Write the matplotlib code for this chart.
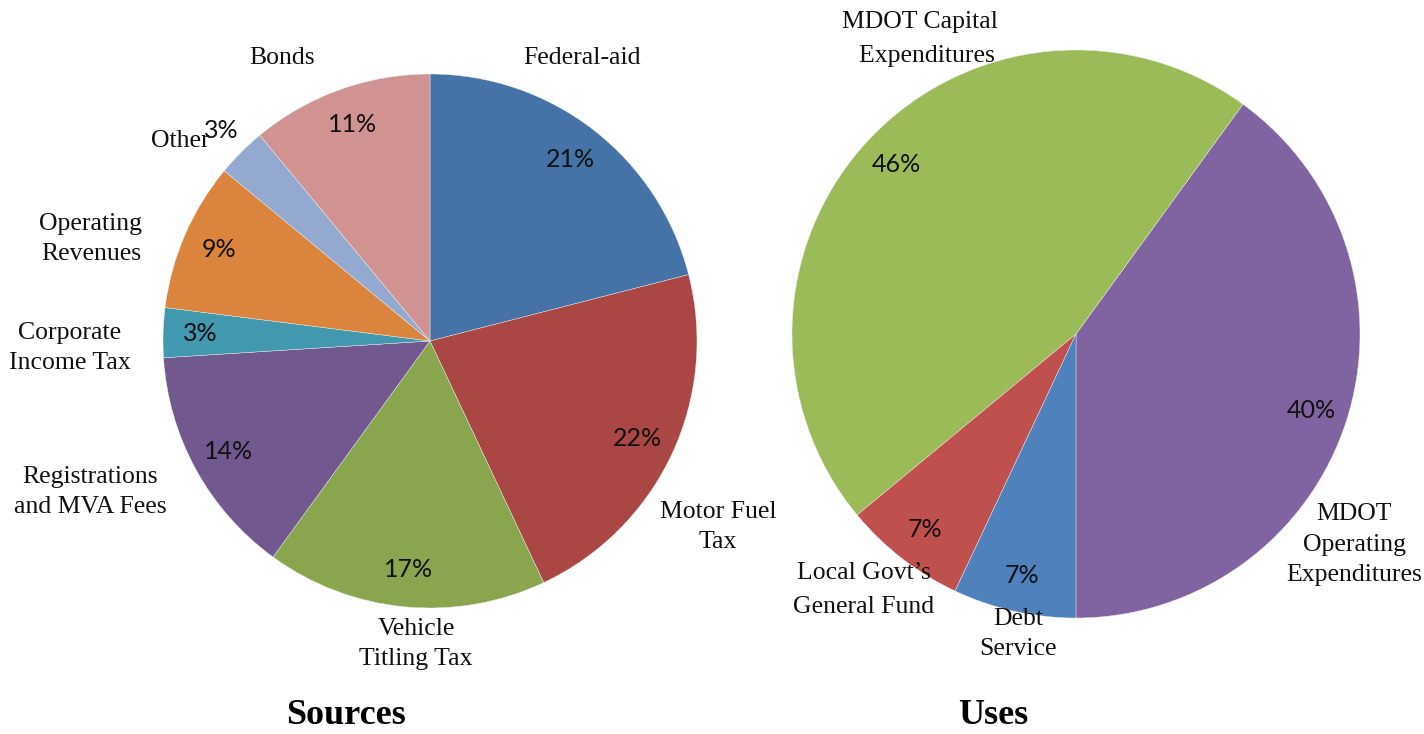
import matplotlib
matplotlib.use("Agg")
import matplotlib.pyplot as plt

# Sources (clockwise from 12 o'clock)
src_labels = ["Federal-aid", "Motor Fuel\nTax", "Vehicle\nTitling Tax", "Registrations\nand MVA Fees",
              "Corporate\nIncome Tax", "Operating\nRevenues", "Other", "Bonds"]
src_values = [21, 22, 17, 14, 3, 9, 3, 11]
src_colors = ["#4572A7", "#AA4643", "#89A54E", "#71588F", "#4198AF", "#DB843D", "#93A9CF", "#D19392"]

# Uses (counter-clockwise from 6 o'clock)
use_labels = ["MDOT\nOperating\nExpenditures", "MDOT Capital\n  Expenditures", "Local Govt\u2019s\nGeneral Fund", "Debt\nService"]
use_values = [40, 46, 7, 7]
use_colors = ["#8064A2", "#9BBB59", "#C0504D", "#4F81BD"]

W, H = 1424, 734
fig = plt.figure(figsize=(W / 100, H / 100), dpi=100)
ax = fig.add_axes([0, 0, 1, 1])


def P(x, y):
    # pixel position (from top-left) -> data coords
    return x, H - y


label_font = dict(family=["Liberation Serif", "DejaVu Serif"], fontsize=18.5, color="#111111")
pct_font = dict(family=["Lato", "DejaVu Sans"], fontsize=18, color="#111111")
wedge_style = dict(linewidth=0.3, edgecolor="#eeeeee")

# left pie
wl, _, tl = ax.pie(src_values, colors=src_colors, startangle=90, counterclock=False,
                   center=P(430, 341), radius=267, autopct="%d%%", pctdistance=0.86,
                   wedgeprops=wedge_style, textprops=pct_font, frame=True)
# "Other" label sits outside the slice
tl[6].set_position(P(221, 131))

# right pie
wr, _, tr = ax.pie(use_values, colors=use_colors, startangle=270, counterclock=True,
                   center=P(1076, 334), radius=284, autopct="%d%%", pctdistance=0.87,
                   wedgeprops=wedge_style, textprops=pct_font, frame=True)

ax.set_xlim(0, W)
ax.set_ylim(0, H)
ax.set_aspect("equal")
ax.axis("off")

src_pos = [(582, 58), (718, 527), (416, 644), (90, 492), (70, 348), (91, 239), (180, 141), (282, 58)]
for lab, (x, y) in zip(src_labels, src_pos):
    ax.text(*P(x, y), lab, ha="center", va="center", linespacing=1.45, **label_font)

use_pos = [(1354, 545), (920, 39), (864, 590), (1018, 634)]
use_ls = [1.5, 1.75, 1.75, 1.5]
for lab, (x, y), ls in zip(use_labels, use_pos, use_ls):
    ax.text(*P(x, y), lab, ha="center", va="center", linespacing=ls, **label_font)

title_font = dict(family=["Liberation Serif", "DejaVu Serif"], fontsize=26, fontweight="bold", color="black")
ax.text(*P(346, 716), "Sources", ha="center", va="center", **title_font)
ax.text(*P(993, 716), "Uses", ha="center", va="center", **title_font)

fig.savefig("out.png", dpi=100)
